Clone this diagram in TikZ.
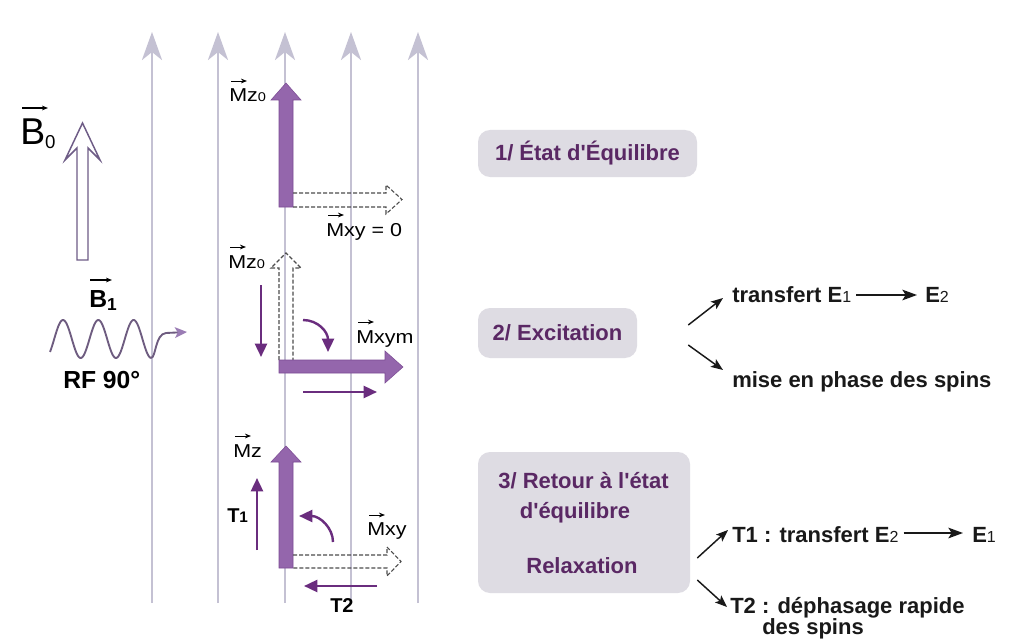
\documentclass[tikz,border=0pt]{standalone}
\usepackage{fontspec}
\setmainfont{Liberation Sans}
\newfontfamily\txtfont{Liberation Sans}
\newfontfamily\lblfont[FakeStretch=1.15]{Liberation Sans}
\usetikzlibrary{arrows.meta}

\definecolor{gridgrey}{HTML}{C4C1D3}
\definecolor{bigpurple}{HTML}{9466AC}
\definecolor{bigpurpleedge}{HTML}{7C4C94}
\definecolor{thinpurple}{HTML}{6A2D7E}
\definecolor{boxfill}{HTML}{DEDCE3}
\definecolor{boxtext}{HTML}{5A2864}
\definecolor{wavecol}{HTML}{6E5C80}
\definecolor{wavehead}{HTML}{9A7CB4}
\definecolor{hollowcol}{HTML}{6E5C86}

\newcommand\smd[1]{{\mdseries\fontsize{12}{12}\selectfont #1}}
\newcommand\lsub[1]{{\fontsize{9.5}{10}\selectfont #1}}

\tikzset{
  gridarrow/.style={draw=gridgrey, line width=2.2pt, -{Stealth[length=21pt,width=15pt,inset=6pt]}},
  bigarrow/.style={fill=bigpurple, draw=bigpurpleedge, line width=0.4pt},
  dashhollow/.style={draw=black!70, dash pattern=on 3pt off 1.5pt, line width=0.8pt},
  thinarr/.style={draw=thinpurple, line width=1.8pt, -{Triangle[length=10pt,width=9pt]}},
  vecarr/.style={draw=black, line width=0.7pt, -{Stealth[length=4.5pt,width=3.5pt]}},
  conn/.style={draw=black!90, line width=1.1pt, -{Stealth[length=9pt,width=7pt,inset=2pt]}},
  longarr/.style={draw=black!90, line width=1.1pt, -{Stealth[length=11pt,width=8pt,inset=2.5pt]}},
  lbl/.style={anchor=base west, inner sep=0, font=\lblfont\fontsize{14}{16}\selectfont},
  tlbl/.style={anchor=base west, inner sep=0, font=\txtfont\bfseries\fontsize{15}{17}\selectfont},
  boxnode/.style={fill=boxfill, rounded corners=9pt, inner sep=0, text=boxtext, font=\txtfont\bfseries\fontsize{16.5}{19}\selectfont},
  boxtxt/.style={inner sep=0, anchor=base, text=boxtext, font=\txtfont\bfseries\fontsize{16.5}{19}\selectfont},
  rtxt/.style={anchor=base west, inner sep=0, text=black!90, font=\txtfont\bfseries\fontsize{16.5}{19}\selectfont},
  hollow/.style={draw=hollowcol, line width=1.1pt, fill=white, line join=miter},
  wave/.style={draw=wavecol, line width=1.4pt}
}

\begin{document}
\begin{tikzpicture}[x=0.75pt,y=-0.75pt]
\useasboundingbox (0,0) rectangle (1015,642);
\fill[white] (0,0) rectangle (1015,642);

% grey field lines
\foreach \i/\gx in {1/152,2/218,3/285,4/351,5/418}{
  \coordinate (gb\i) at (\gx,603);
  \coordinate (gt\i) at (\gx,32);
  \draw[gridarrow] (gb\i) -- (gt\i);
}

% B0
\node[anchor=base west, inner sep=0, font=\txtfont\fontsize{28}{30}\selectfont] (B0) at (20,145)
  {B\raisebox{-2.25pt}{\fontsize{14}{14}\selectfont 0}};
\draw[vecarr, line width=0.9pt] ([shift={(2,-37)}]B0.base west) -- ++(26,0);
\draw[hollow] (77,260) -- (77,148) -- (65,160) -- (82.5,123) -- (100,160) -- (88,148) -- (88,260) -- cycle;

% B1 and RF wave
\node[anchor=base west, inner sep=0, font=\txtfont\bfseries\fontsize{18.5}{20}\selectfont] (B1) at (89,307)
  {B\raisebox{-2.5pt}{\fontsize{13}{14}\selectfont 1}};
\draw[vecarr, line width=0.9pt] ([shift={(1,-27)}]B1.base west) -- ++(22,0);
\node[anchor=base west, inner sep=0, font=\txtfont\bfseries\fontsize{18.5}{20}\selectfont] (rf) at (63,388) {RF 90°};
\draw[wave] plot[domain=50:151,samples=120,smooth] (\x,{339-19*sin(10.1983*(\x-54.2))});
\coordinate (wst) at (151,358);
\coordinate (wend) at (187,332);
\draw[wave, -{Stealth[length=9pt,width=8pt,inset=2pt,color=wavehead,fill=wavehead]}]
  (wst) .. controls (156,358) and (155,334) .. (166,333) -- (wend);

% ---------- Section 1 ----------
\fill[bigarrow] (279,207) -- (279,100) -- (271,100) -- (286,83) -- (301,100) -- (293,100) -- (293,207) -- cycle;
\draw[dashhollow] (293,193) -- (386,193) -- (386,185) -- (402,199.5) -- (386,214) -- (386,207) -- (293,207);
\node[lbl] (mzA) at (229,102) {Mz\lsub{0}};
\draw[vecarr] ([shift={(2,-21)}]mzA.base west) -- ++(16,0);
\node[lbl] (mxy0) at (326,236) {Mxy = 0};
\draw[vecarr] ([shift={(2,-21)}]mxy0.base west) -- ++(16,0);

% ---------- Section 2 ----------
\draw[dashhollow] (279,360) -- (279,268) -- (271,268) -- (286,253) -- (301,268) -- (293,268) -- (293,360);
\fill[bigarrow] (279,360) -- (385,360) -- (385,351) -- (403,367) -- (385,383) -- (385,373) -- (279,373) -- cycle;
\draw[thinarr] (261,285) -- (261,357);
\draw[thinarr] (303,320) .. controls (318,320) and (328,332) .. (328,352);
\draw[thinarr] (303,392) -- (377,392);
\node[lbl] (mzB) at (228,268) {Mz\lsub{0}};
\draw[vecarr] ([shift={(2,-21)}]mzB.base west) -- ++(16,0);
\node[lbl] (mxym) at (356,343) {Mxym};
\draw[vecarr] ([shift={(2,-21)}]mxym.base west) -- ++(16,0);

% ---------- Section 3 ----------
\fill[bigarrow] (279,568) -- (279,462) -- (271,462) -- (286,446) -- (301,462) -- (293,462) -- (293,568) -- cycle;
\draw[dashhollow] (293,555) -- (387,555) -- (387,547) -- (401,561.5) -- (387,576) -- (387,568) -- (293,568);
\draw[thinarr] (257,550) -- (257,478);
\draw[thinarr] (333,542) .. controls (333,528) and (320,516) .. (299,516);
\draw[thinarr] (377,586) -- (304,586);
\node[lbl] (mzC) at (233,457) {Mz};
\draw[vecarr] ([shift={(2,-21)}]mzC.base west) -- ++(16,0);
\node[lbl] (mxyC) at (367,535) {Mxy};
\draw[vecarr] ([shift={(2,-20)}]mxyC.base west) -- ++(16,0);
\node[tlbl] (T1l) at (227,522) {T{\fontsize{11.5}{12}\selectfont 1}};
\node[tlbl] (T2l) at (330,612) {T2};

% ---------- Right side ----------
\node[boxnode, minimum width=164.25pt, minimum height=35.25pt] (box1) at (587.5,153.5) {1/ État d'Équilibre};
\node[boxnode, minimum width=119.25pt, minimum height=37.5pt] (box2) at (557.5,333) {2/ Excitation};
\node[boxnode, minimum width=159pt, minimum height=105.75pt] (box3) at (584,522.5) {};
\node[boxtxt] (b3a) at (583.5,488) {3/ Retour à l'état};
\node[boxtxt] (b3b) at (575,518) {d'équilibre};
\node[boxtxt] (b3c) at (582,573) {Relaxation};

\node[rtxt] (tr1) at (732,302) {transfert E\smd{1}};
\node[rtxt] (tr1e) at (925,302) {E\smd{2}};
\draw[longarr] ([shift={(5,-7)}]tr1.base east) -- ([shift={(-8,-7)}]tr1e.base west);
\node[rtxt] (mise) at (732,387) {mise en phase des spins};

\node[rtxt] (t1r) at (732,542) {T1 : transfert E\smd{2}};
\node[rtxt] (t1e) at (972,542) {E\smd{1}};
\draw[longarr] ([shift={(5,-9)}]t1r.base east) -- ([shift={(-9,-9)}]t1e.base west);
\node[rtxt] (t2r) at (730,613) {T2 : déphasage rapide};
\node[rtxt] (t2b) at (762,634) {des spins};

\draw[conn] ([shift={(51,-8)}]box2.east) -- ([shift={(-9,-4)}]tr1.base west);
\draw[conn] ([shift={(51,12)}]box2.east) -- ([shift={(-9,-17)}]mise.base west);
\draw[conn] ([shift={(7,35.5)}]box3.east) -- ([shift={(-4,-12)}]t1r.base west);
\draw[conn] ([shift={(7,57.5)}]box3.east) -- ([shift={(-3,-6)}]t2r.base west);
\end{tikzpicture}
\end{document}
